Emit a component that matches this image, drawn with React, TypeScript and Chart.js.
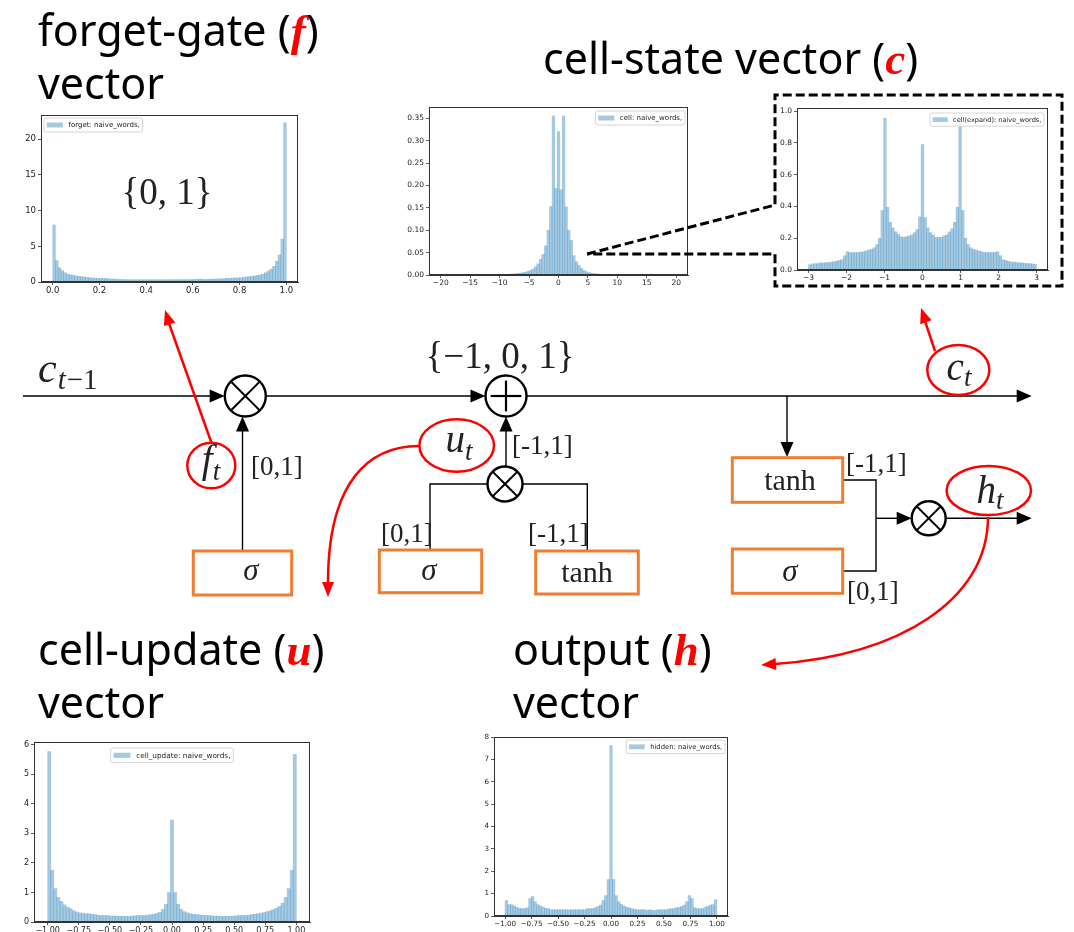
import React, { useEffect, useRef } from "react";
import { Chart, registerables } from "chart.js";

Chart.register(...registerables);

// ---------------- data ----------------
const FORGET_LABEL = "forget: naive_words,";
const FORGET_RANGE = [0, 1];
const FORGET_VALUES = [
  8.0, 3.0, 2.0, 1.6, 1.3, 1.1, 1.0, 0.95, 0.85, 0.8, 0.75, 0.7, 0.65, 0.6, 0.55, 0.55, 0.5, 0.5, 0.5, 0.48, 0.45, 0.42, 0.4, 0.4,
  0.35, 0.35, 0.33, 0.33, 0.32, 0.32, 0.32, 0.32, 0.32, 0.32, 0.32, 0.32, 0.32, 0.32, 0.32, 0.32, 0.32, 0.32, 0.32, 0.33, 0.33,
  0.33, 0.33, 0.33, 0.33, 0.33, 0.35, 0.35, 0.38, 0.4, 0.38, 0.35,
  0.38, 0.4, 0.4, 0.42, 0.45, 0.45, 0.48, 0.5, 0.52, 0.55, 0.55, 0.58, 0.6, 0.65, 0.7, 0.75, 0.8, 0.85, 0.93, 1.0, 1.1, 1.3,
  1.55, 1.8, 2.2, 2.9, 3.8, 6.0, 22.3,
];
const FORGET_XTICKS = [0, 0.2, 0.4, 0.6, 0.8, 1.0];
const FORGET_YTICKS = [0, 5, 10, 15, 20];

const CELL_LABEL = "cell: naive_words,";
const CELL_RANGE = [-22, 22];
const CELL_VALUES = [
  0, 0, 0, 0, 0, 0, 0, 0, 0, 0.0001, 0.0001, 0.0001, 0.0002, 0.0002, 0.0002, 0.0003, 0.0003, 0.0003, 0.0004, 0.0004,
  0.0004, 0.0005, 0.0005, 0.0005, 0.0006,
  0.0006, 0.0008, 0.001, 0.001, 0.0012, 0.0015, 0.002, 0.002, 0.003, 0.003, 0.004, 0.005, 0.006, 0.008, 0.01, 0.013,
  0.018, 0.025, 0.035, 0.046, 0.065, 0.1, 0.153, 0.355, 0.193,
  0.32,
  0.19, 0.355, 0.152, 0.1, 0.077, 0.043, 0.03, 0.022, 0.015, 0.01, 0.007, 0.005, 0.004, 0.003, 0.0025, 0.002, 0.0015,
  0.0012, 0.001, 0.001, 0.0008, 0.0006, 0.0006, 0.0005, 0.0005,
  0.0004, 0.0004, 0.0004, 0.0003, 0.0003, 0.0003, 0.0002, 0.0002, 0.0002, 0.0001, 0.0001, 0.0001, 0, 0, 0, 0, 0, 0, 0, 0,
  0, 0, 0, 0, 0,
];
const CELL_XTICKS = [-20, -15, -10, -5, 0, 5, 10, 15, 20];
const CELL_YTICKS = [0, 0.05, 0.1, 0.15, 0.2, 0.25, 0.3, 0.35];

const EXPAND_LABEL = "cell(expand): naive_words,";
const EXPAND_RANGE = [-3, 3];
const EXPAND_VALUES = [
  0.033, 0.038, 0.04, 0.04, 0.045, 0.045, 0.046, 0.047, 0.05, 0.052, 0.055, 0.06, 0.065, 0.09, 0.115, 0.11, 0.11, 0.11,
  0.11, 0.113, 0.115, 0.12, 0.125, 0.13, 0.14, 0.16, 0.2, 0.375, 0.955, 0.395, 0.3, 0.265, 0.24, 0.225, 0.21, 0.205,
  0.21, 0.215, 0.22, 0.235, 0.255, 0.335, 0.79, 0.33, 0.265, 0.235, 0.22, 0.205, 0.205, 0.205, 0.215, 0.22, 0.24, 0.26,
  0.3, 0.395, 0.97, 0.375, 0.2, 0.16, 0.14, 0.13, 0.125, 0.12, 0.115, 0.11, 0.11, 0.11, 0.11, 0.112, 0.115, 0.09, 0.065,
  0.06, 0.055, 0.05, 0.05, 0.047, 0.046, 0.045, 0.042, 0.04, 0.04, 0.038, 0.035,
];
const EXPAND_XTICKS = [-3, -2, -1, 0, 1, 2, 3];
const EXPAND_YTICKS = [0, 0.2, 0.4, 0.6, 0.8, 1.0];

const UPDATE_LABEL = "cell_update: naive_words,";
const UPDATE_RANGE = [-1, 1];
const UPDATE_VALUES = [
  5.77, 1.75, 1.13, 0.83, 0.7, 0.58, 0.5, 0.45, 0.38, 0.34, 0.31, 0.3, 0.28, 0.28, 0.26, 0.25, 0.23, 0.22, 0.22, 0.22,
  0.2, 0.2, 0.2, 0.19, 0.19, 0.19, 0.19, 0.2, 0.21, 0.22, 0.22, 0.22, 0.23, 0.25, 0.26,
  0.29, 0.33, 0.43, 0.6, 1.0, 3.45,
  1.0, 0.6, 0.43, 0.35, 0.31, 0.28, 0.26, 0.25, 0.24, 0.23, 0.22, 0.22, 0.21, 0.2, 0.2, 0.19, 0.19, 0.19, 0.19, 0.2,
  0.21, 0.22, 0.22, 0.22, 0.23, 0.25, 0.26, 0.28, 0.3, 0.32, 0.35, 0.38, 0.42, 0.47, 0.53, 0.63, 0.83, 1.13, 1.75, 5.67,
];
const UNIT_XTICKS = [-1, -0.75, -0.5, -0.25, 0, 0.25, 0.5, 0.75, 1];
const UPDATE_YTICKS = [0, 1, 2, 3, 4, 5, 6];

const HIDDEN_LABEL = "hidden: naive_words,";
const HIDDEN_RANGE = [-1, 1];
const HIDDEN_VALUES = [
  0.69, 0.51, 0.51, 0.45, 0.39, 0.34, 0.33, 0.33, 0.37, 0.78, 0.87, 0.64, 0.51, 0.45, 0.4, 0.34, 0.33, 0.28, 0.28, 0.28,
  0.28, 0.28, 0.28, 0.28, 0.27, 0.28, 0.28, 0.28, 0.28, 0.28, 0.28, 0.33, 0.33, 0.33, 0.37, 0.43, 0.49, 0.69, 0.91, 1.63,
  7.62,
  1.63, 0.91, 0.64, 0.52, 0.45, 0.39, 0.36, 0.33, 0.3, 0.28, 0.28, 0.28, 0.28, 0.25, 0.28, 0.25, 0.25, 0.28, 0.28, 0.28,
  0.28, 0.31, 0.33, 0.33, 0.37, 0.39, 0.43, 0.49, 0.64, 0.91, 0.78, 0.37, 0.33, 0.33, 0.33, 0.39, 0.43, 0.49, 0.51, 0.73,
];
const HIDDEN_YTICKS = [0, 1, 2, 3, 4, 5, 6, 7, 8];

// ---------------- styles ----------------
const BAR_FILL = "rgba(31,119,180,0.4)";
const AXIS = "#333333";
const TICK_TXT = "#222222";
const TICK_FONT = "'DejaVu Sans', sans-serif";
const MATH = "'Liberation Serif', 'DejaVu Serif', serif";
const TITLE = "'Noto Sans', 'DejaVu Sans', sans-serif";
const ORANGE = "#ED7D31";
const RED = "#FF0000";
const INK = "#222222";

const minus = (s: string) => s.replace("-", "\u2212");

function centersOf(range: number[], n: number): number[] {
  const w = (range[1] - range[0]) / n;
  const out: number[] = [];
  for (let i = 0; i < n; i++) out.push(range[0] + w * (i + 0.5));
  return out;
}

const framePlugin = {
  id: "mplFrame",
  afterDraw(chart: any) {
    const { ctx, chartArea: a } = chart;
    ctx.save();
    ctx.strokeStyle = AXIS;
    ctx.lineWidth = 1;
    ctx.strokeRect(Math.round(a.left) + 0.5, Math.round(a.top) + 0.5, Math.round(a.right - a.left) - 1, Math.round(a.bottom - a.top) - 1);
    ctx.restore();
  },
};

const legendPlugin = {
  id: "mplLegend",
  afterDraw(chart: any, _args: any, opts: any) {
    const { ctx, chartArea: a } = chart;
    const label = chart.data.datasets[0].label;
    const f = opts.size;
    ctx.save();
    ctx.font = `${f}px ${TICK_FONT}`;
    const tw = ctx.measureText(label).width;
    const pad = 0.4 * f;
    const hw = 2.3 * f;
    const gap = 0.8 * f;
    const w = pad + hw + gap + tw + pad;
    const h = 2.0 * f;
    let x = a.left + opts.off;
    if (opts.loc === "ur") x = a.right - opts.off - w;
    if (opts.loc === "uc") x = (a.left + a.right) / 2 - w / 2;
    const y = a.top + opts.offTop;
    ctx.fillStyle = "rgba(255,255,255,0.85)";
    ctx.strokeStyle = "#cccccc";
    ctx.lineWidth = 0.8;
    ctx.beginPath();
    (ctx as any).roundRect ? (ctx as any).roundRect(x, y, w, h, 2) : ctx.rect(x, y, w, h);
    ctx.fill();
    ctx.stroke();
    ctx.fillStyle = BAR_FILL;
    ctx.fillRect(x + pad, y + h / 2 - 0.35 * f, hw, 0.7 * f);
    ctx.fillStyle = TICK_TXT;
    ctx.textBaseline = "middle";
    ctx.fillText(label, x + pad + hw + gap, y + h / 2 + 0.5);
    ctx.restore();
  },
};

type HistCfg = {
  label: string;
  range: number[];
  values: number[];
  xMin: number;
  xMax: number;
  yMax: number;
  xTicks: number[];
  yTicks: number[];
  xFmt: (v: number) => string;
  yFmt: (v: number) => string;
  box: { L: number; T: number; R: number; B: number };
  aw: number;
  font: number;
  legend: { loc: string; size: number; off: number; offTop: number };
};

const PT = 8;
const PR = 18;
const AH = 22;

function Hist({ cfg }: { cfg: HistCfg }) {
  const ref = useRef<HTMLCanvasElement>(null);
  const { L, T, R, B } = cfg.box;
  const width = cfg.aw + (R - L) + PR;
  const height = PT + (B - T) + AH;
  useEffect(() => {
    if (!ref.current) return;
    const centers = centersOf(cfg.range, cfg.values.length);
    const chart = new Chart(ref.current, {
      type: "bar",
      data: {
        datasets: [
          {
            label: cfg.label,
            data: centers.map((x, i) => ({ x, y: cfg.values[i] })),
            backgroundColor: BAR_FILL,
            borderWidth: 0,
            barPercentage: 1,
            categoryPercentage: 1,
            grouped: false,
          } as any,
        ],
      },
      options: {
        animation: false,
        responsive: false,
        devicePixelRatio: 1,
        layout: { padding: { top: PT, right: PR, left: 0, bottom: 0 } },
        plugins: {
          legend: { display: false },
          tooltip: { enabled: false },
          mplLegend: cfg.legend,
        } as any,
        scales: {
          x: {
            type: "linear",
            min: cfg.xMin,
            max: cfg.xMax,
            offset: false,
            afterBuildTicks: (s: any) => {
              s.ticks = cfg.xTicks.map((v) => ({ value: v }));
            },
            afterFit: (s: any) => {
              s.height = AH;
              s.paddingLeft = 0;
              s.paddingRight = 0;
            },
            ticks: {
              autoSkip: false,
              maxRotation: 0,
              minRotation: 0,
              padding: 1,
              color: TICK_TXT,
              font: { family: TICK_FONT, size: cfg.font },
              callback: (v: any) => cfg.xFmt(Number(v)),
            },
            grid: { offset: false, drawOnChartArea: false, drawTicks: true, tickLength: 3, color: AXIS, lineWidth: 0.8 },
            border: { display: true, color: AXIS, width: 1 },
          },
          y: {
            min: 0,
            max: cfg.yMax,
            afterBuildTicks: (s: any) => {
              s.ticks = cfg.yTicks.map((v) => ({ value: v }));
            },
            afterFit: (s: any) => {
              s.width = cfg.aw;
              s.paddingTop = 0;
              s.paddingBottom = 0;
            },
            ticks: {
              padding: 2,
              color: TICK_TXT,
              font: { family: TICK_FONT, size: cfg.font },
              callback: (v: any) => cfg.yFmt(Number(v)),
            },
            grid: { drawOnChartArea: false, drawTicks: true, tickLength: 3, color: AXIS, lineWidth: 0.8 },
            border: { display: true, color: AXIS, width: 1 },
          },
        },
      } as any,
      plugins: [framePlugin, legendPlugin],
    });
    return () => chart.destroy();
  }, []);
  return (
    <canvas
      ref={ref}
      width={width}
      height={height}
      style={{ position: "absolute", left: L - cfg.aw, top: T - PT, width, height }}
    />
  );
}

const fmtInt = (v: number) => minus(String(Math.round(v)));
const fmt1 = (v: number) => minus(v.toFixed(1));
const fmt2 = (v: number) => minus(v.toFixed(2));

const HISTS: HistCfg[] = [
  {
    label: FORGET_LABEL, range: FORGET_RANGE, values: FORGET_VALUES, xMin: -0.05, xMax: 1.05, yMax: 23.4,
    xTicks: FORGET_XTICKS, yTicks: FORGET_YTICKS, xFmt: fmt1, yFmt: fmtInt,
    box: { L: 41, T: 115, R: 298, B: 282 }, aw: 38, font: 8.5,
    legend: { loc: "ul", size: 7, off: 3, offTop: 3 },
  },
  {
    label: CELL_LABEL, range: CELL_RANGE, values: CELL_VALUES, xMin: -22, xMax: 22, yMax: 0.375,
    xTicks: CELL_XTICKS, yTicks: CELL_YTICKS, xFmt: fmtInt, yFmt: fmt2,
    box: { L: 429, T: 107, R: 688, B: 275 }, aw: 38, font: 7.5,
    legend: { loc: "ur", size: 7, off: 3, offTop: 4 },
  },
  {
    label: EXPAND_LABEL, range: EXPAND_RANGE, values: EXPAND_VALUES, xMin: -3.3, xMax: 3.3, yMax: 1.02,
    xTicks: EXPAND_XTICKS, yTicks: EXPAND_YTICKS, xFmt: fmtInt, yFmt: fmt1,
    box: { L: 797, T: 108, R: 1048, B: 270 }, aw: 36, font: 7.5,
    legend: { loc: "ur", size: 6.6, off: 4, offTop: 5 },
  },
  {
    label: UPDATE_LABEL, range: UPDATE_RANGE, values: UPDATE_VALUES, xMin: -1.11, xMax: 1.11, yMax: 6.09,
    xTicks: UNIT_XTICKS, yTicks: UPDATE_YTICKS, xFmt: fmt2, yFmt: fmtInt,
    box: { L: 34, T: 742, R: 310, B: 922 }, aw: 34, font: 8,
    legend: { loc: "uc", size: 7.3, off: 0, offTop: 6 },
  },
  {
    label: HIDDEN_LABEL, range: HIDDEN_RANGE, values: HIDDEN_VALUES, xMin: -1.105, xMax: 1.105, yMax: 8,
    xTicks: UNIT_XTICKS, yTicks: HIDDEN_YTICKS, xFmt: fmt2, yFmt: fmtInt,
    box: { L: 494, T: 737, R: 728, B: 916 }, aw: 36, font: 7.2,
    legend: { loc: "ur", size: 6.8, off: 3, offTop: 3 },
  },
];

// ---------------- diagram helpers ----------------
function head(tx: number, ty: number, dx: number, dy: number, len = 15, half = 6.5) {
  const l = Math.hypot(dx, dy);
  const ux = dx / l;
  const uy = dy / l;
  const bx = tx - ux * len;
  const by = ty - uy * len;
  return `${tx},${ty} ${bx - uy * half},${by + ux * half} ${bx + uy * half},${by - ux * half}`;
}

function Times({ cx, cy, r }: { cx: number; cy: number; r: number }) {
  const d = r * 0.68;
  return (
    <g stroke="#000" strokeWidth={2.4} fill="#fff">
      <circle cx={cx} cy={cy} r={r} />
      <line x1={cx - d} y1={cy - d} x2={cx + d} y2={cy + d} strokeWidth={2} />
      <line x1={cx - d} y1={cy + d} x2={cx + d} y2={cy - d} strokeWidth={2} />
    </g>
  );
}

function Plus({ cx, cy, r }: { cx: number; cy: number; r: number }) {
  const d = r * 0.75;
  return (
    <g stroke="#000" strokeWidth={2.4} fill="#fff">
      <circle cx={cx} cy={cy} r={r} />
      <line x1={cx - d} y1={cy} x2={cx + d} y2={cy} strokeWidth={2.2} />
      <line x1={cx} y1={cy - d} x2={cx} y2={cy + d} strokeWidth={2.2} />
    </g>
  );
}

function Box({ x1, y1, x2, y2 }: any) {
  return (
    <rect x={x1} y={y1} width={x2 - x1} height={y2 - y1} fill="#fff" stroke={ORANGE} strokeWidth={3} />
  );
}

function Label({ x, y, text }: { x: number; y: number; text: string }) {
  return (
    <text x={x} y={y} fontFamily={MATH} fontSize={27} fill={INK}>
      {text}
    </text>
  );
}

function Sub({ x, y, main, sub, size = 39, subSize = 27, dy = 7 }: any) {
  return (
    <text x={x} y={y} textAnchor="middle" fontFamily={MATH} fontStyle="italic" fontSize={size} fill={INK}>
      {main}
      <tspan fontSize={subSize} dy={dy}>
        {sub}
      </tspan>
    </text>
  );
}

function Title({ x, y, pre, sym, post, line2 }: any) {
  return (
    <g>
      <text x={x} y={y} fontFamily={TITLE} fontSize={43} fill="#000">
        {pre}
        <tspan fontFamily={MATH} fontStyle="italic" fontWeight="bold" fill={RED} fontSize={45}>
          {sym}
        </tspan>
        {post}
      </text>
      {line2 ? (
        <text x={x} y={y + 53} fontFamily={TITLE} fontSize={43} fill="#000">
          {line2}
        </text>
      ) : null}
    </g>
  );
}

function Diagram() {
  const lw = 1.4;
  return (
    <svg
      width={1074}
      height={932}
      style={{ position: "absolute", left: 0, top: 0, pointerEvents: "none" }}
    >
      {/* titles */}
      <Title x={38} y={46} pre="forget-gate (" sym="f" post=")" line2="vector" />
      <Title x={543} y={74} pre="cell-state vector (" sym="c" post=")" />
      <Title x={38} y={665} pre="cell-update (" sym="u" post=")" line2="vector" />
      <Title x={513} y={665} pre="output (" sym="h" post=")" line2="vector" />

      {/* {0,1} annotation in forget histogram */}
      <text x={167} y={204} textAnchor="middle" fontFamily={MATH} fontSize={37} fill={INK}>
        {"{0, 1}"}
      </text>

      {/* zoom call-out */}
      <polyline
        points="587,254 775,205 775,95 1062,95 1062,286 775,286 775,254 587,254"
        fill="none"
        stroke="#000"
        strokeWidth={3}
        strokeDasharray="9 4"
      />

      {/* main cell-state line */}
      <g stroke="#000" strokeWidth={lw} fill="none">
        <line x1={23} y1={396} x2={212} y2={396} />
        <line x1={266} y1={396} x2={472} y2={396} />
        <line x1={526} y1={396} x2={1018} y2={396} />
        <line x1={787} y1={396} x2={787} y2={444} />
        <line x1={242.5} y1={551} x2={242.5} y2={428} />
        <line x1={506} y1={466} x2={506} y2={428} />
        <polyline points="487.5,484 430,484 430,550" />
        <polyline points="522.5,484 587.3,484 587.3,551" />
        <polyline points="842.7,480 876,480 876,571 842.7,571" />
        <line x1={876} y1={518.3} x2={898} y2={518.3} />
        <line x1={945.7} y1={518.3} x2={1018} y2={518.3} />
      </g>
      <g fill="#000">
        <polygon points={head(224.7, 396, 1, 0)} />
        <polygon points={head(485.5, 396, 1, 0)} />
        <polygon points={head(1031.7, 396, 1, 0)} />
        <polygon points={head(787, 457, 0, 1)} />
        <polygon points={head(242.5, 416.5, 0, -1)} />
        <polygon points={head(506, 416.5, 0, -1)} />
        <polygon points={head(911.7, 518.3, 1, 0)} />
        <polygon points={head(1031.7, 518.3, 1, 0)} />
      </g>

      <Times cx={245.3} cy={396} r={20.5} />
      <Plus cx={506} cy={396} r={20.5} />
      <Times cx={505} cy={484} r={17.5} />
      <Times cx={928.7} cy={518.3} r={17} />

      {/* {-1,0,1} */}
      <text x={500} y={368} textAnchor="middle" fontFamily={MATH} fontSize={37} fill={INK}>
        {"{\u22121, 0, 1}"}
      </text>

      {/* c_{t-1} */}
      <text x={38} y={382} fontFamily={MATH} fontStyle="italic" fontSize={42} fill={INK}>
        c
        <tspan fontSize={29} dy={7} dx={1}>
          t
        </tspan>
        <tspan fontSize={29} fontStyle="normal" dx={1}>
          {"\u22121"}
        </tspan>
      </text>

      {/* boxes */}
      <Box x1={193.3} y1={551} x2={291.7} y2={595} />
      <Box x1={379.3} y1={550} x2={481.7} y2={592.7} />
      <Box x1={535.7} y1={551} x2={638.3} y2={594} />
      <Box x1={732.3} y1={457.7} x2={842.7} y2={502.3} />
      <Box x1={732.3} y1={549} x2={842.7} y2={593.3} />
      <g fontFamily={MATH} fill={INK}>
        <text x={251} y={580} textAnchor="middle" fontStyle="italic" fontSize={31}>σ</text>
        <text x={429} y={580} textAnchor="middle" fontStyle="italic" fontSize={31}>σ</text>
        <text x={587} y={581.5} textAnchor="middle" fontSize={30}>tanh</text>
        <text x={790} y={489.5} textAnchor="middle" fontSize={30}>tanh</text>
        <text x={790} y={581} textAnchor="middle" fontStyle="italic" fontSize={31}>σ</text>
      </g>

      {/* range labels */}
      <Label x={251} y={475} text="[0,1]" />
      <Label x={512} y={454} text="[-1,1]" />
      <Label x={381} y={542} text="[0,1]" />
      <Label x={528} y={542} text="[-1,1]" />
      <Label x={846} y={472} text="[-1,1]" />
      <Label x={847} y={600} text="[0,1]" />

      {/* red annotations */}
      <g stroke={RED} strokeWidth={2.5} fill="none">
        <line x1={211.5} y1={443} x2={168.5} y2={322} />
        <line x1={935} y1={351} x2={924.3} y2={319} />
        <path d="M 419 446 C 370 446, 328 480, 328 583" />
        <path d="M 988 517 C 988 600, 900 655, 775 664" />
      </g>
      <g fill={RED}>
        <polygon points={head(165, 310, -43, -133, 15, 6)} />
        <polygon points={head(921, 308, -11, -32, 15, 6)} />
        <polygon points={head(328, 597, 0, 1, 15, 6)} />
        <polygon points={head(761, 665, -138, 10, 15, 6)} />
      </g>
      <g stroke={RED} strokeWidth={2.5} fill="#fff">
        <ellipse cx={211.3} cy={465.5} rx={24} ry={22.8} />
        <ellipse cx={456.7} cy={445.5} rx={37.3} ry={26.2} />
        <ellipse cx={958.3} cy={370} rx={31} ry={25} />
        <ellipse cx={988.8} cy={490.5} rx={42.2} ry={24.5} />
      </g>
      <Sub x={211} y={472} main="f" sub="t" dy={8} />
      <Sub x={459} y={452} main="u" sub="t" dy={8} />
      <Sub x={959} y={380} main="c" sub="t" dy={6} />
      <Sub x={990} y={503} main="h" sub="t" dy={6} />
    </svg>
  );
}

export default function App() {
  return (
    <div
      style={{
        position: "absolute",
        left: 0,
        top: 0,
        width: 1074,
        height: 932,
        overflow: "hidden",
        background: "#fff",
      }}
    >
      {HISTS.map((h) => (
        <Hist key={h.label} cfg={h} />
      ))}
      <Diagram />
    </div>
  );
}
